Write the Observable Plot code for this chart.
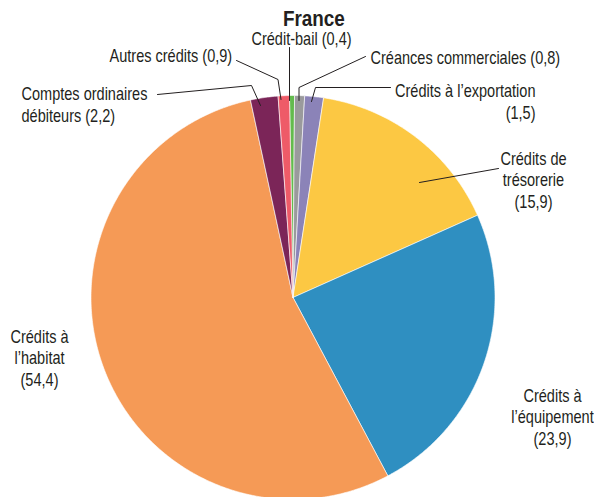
<!DOCTYPE html>
<html><head><meta charset="utf-8">
<script src="https://cdn.jsdelivr.net/npm/d3@7"></script>
<script src="https://cdn.jsdelivr.net/npm/@observablehq/plot@0.6"></script>
<style>
body{margin:0;background:#fff;position:relative;}
#title{position:absolute;top:0;left:0;z-index:2;width:594px;height:32px;box-sizing:border-box;padding-top:6px;padding-left:34px;text-align:center;font-weight:bold;font-size:22.5px;font-family:"Liberation Sans Narrow","Arial Narrow","Liberation Sans",sans-serif;line-height:26px;color:#231f20;}
#title span{display:inline-block;transform:scaleX(0.84);}
#chart svg{display:block;}
</style></head><body>
<div id="title"><span>France</span></div>
<div id="chart"></div>
<script>
// ---- data ----
const categories = ["Crédit-bail", "Créances commerciales", "Crédits à l’exportation", "Crédits de trésorerie", "Crédits à l’équipement", "Crédits à l’habitat", "Comptes ordinaires débiteurs", "Autres crédits"];
const values = [0.4, 0.8, 1.5, 15.9, 23.9, 54.4, 2.2, 0.9];
const labelTexts = ["Crédit-bail (0,4)", "Créances commerciales (0,8)", "Crédits à l’exportation\n(1,5)", "Crédits de\ntrésorerie\n(15,9)", "Crédits à\nl’équipement\n(23,9)", "Crédits à\nl’habitat\n(54,4)", "Comptes ordinaires\ndébiteurs (2,2)", "Autres crédits (0,9)"];
const colors = ["#63bb4d", "#9a9a9c", "#8b83b8", "#fcc843", "#2f8fc1", "#f59a56", "#7b2558", "#ee5b68"];

// ---- layout (page pixels) ----
const W = 594, H = 497;
const cx = 292.5, cy = 297, R = 202;
const offset = -1 * Math.PI / 180;

const arcs = d3.pie().sort(null).startAngle(offset).endAngle(2 * Math.PI + offset)(values);
const wedgePts = [];
arcs.forEach((a, i) => {
  const n = Math.max(2, Math.ceil((a.endAngle - a.startAngle) / (Math.PI / 360)));
  wedgePts.push({k: categories[i], x: cx, y: cy});
  for (let j = 0; j <= n; j++) {
    const t = a.startAngle + (a.endAngle - a.startAngle) * j / n;
    wedgePts.push({k: categories[i], x: cx + R * Math.sin(t), y: cy - R * Math.cos(t)});
  }
  wedgePts.push({k: categories[i], x: cx, y: cy});
});

// label placement (annotation layout)
const labelPos = [
  {x: 301, y: 38, anchor: "middle"},
  {x: 370, y: 57, anchor: "start"},
  {x: 535, y: 90, anchor: "end"},
  {x: 533, y: 179, anchor: "middle"},
  {x: 552, y: 416, anchor: "middle"},
  {x: 39, y: 357, anchor: "middle"},
  {x: 21, y: 93, anchor: "start"},
  {x: 109, y: 55, anchor: "start"}
];
const labels = labelTexts.map((t, i) => ({text: t, ...labelPos[i]}));
// for non-centred multi-line labels, y is the first line; shift to block centre
labels.forEach(d => { const lines = d.text.split("\n").length; if (d.anchor !== "middle") d.y = d.y + (lines - 1) * 10.75; });

const leaders = [
  [[289, 47], [289, 100]],
  [[365, 56], [298.5, 87], [298.5, 100]],
  [[390, 87], [315, 87], [311, 101]],
  [[498, 168], [419, 182]],
  null, null,
  [[157, 94], [251, 85], [260, 105]],
  [[236, 60], [277.5, 79], [280.5, 99]]
];
const leaderPts = [];
leaders.forEach((l, i) => { if (l) l.forEach(([x, y]) => leaderPts.push({id: categories[i], x, y})); });

const font = "'Liberation Sans Narrow','Arial Narrow','Liberation Sans',sans-serif";
const textOpts = a => ({x: "x", y: "y", text: "text", textAnchor: a, fontSize: 17.5, lineHeight: 1.23, fill: "#231f20", fontFamily: font});

const chart = Plot.plot({
  width: W, height: H, margin: 0,
  x: {domain: [0, W], range: [0, W], axis: null},
  y: {domain: [0, H], range: [0, H], axis: null},
  color: {domain: categories, range: colors},
  marks: [
    Plot.line(wedgePts, {x: "x", y: "y", z: "k", fill: "k", stroke: "white", strokeWidth: 0.6, curve: "linear"}),
    Plot.line(leaderPts, {x: "x", y: "y", z: "id", stroke: "#231f20", strokeWidth: 1, curve: "linear"}),
    Plot.text(labels.filter(d => d.anchor === "start"), textOpts("start")),
    Plot.text(labels.filter(d => d.anchor === "middle"), textOpts("middle")),
    Plot.text(labels.filter(d => d.anchor === "end"), textOpts("end"))
  ]
});
// condense the label glyphs horizontally (narrow typeface look) around each anchor
chart.querySelectorAll("text").forEach(t => {
  const tr = t.getAttribute("transform");
  if (tr && tr.includes("translate")) t.setAttribute("transform", tr + " scale(0.83,1)");
});
document.getElementById("chart").appendChild(chart);
</script>
</body></html>
